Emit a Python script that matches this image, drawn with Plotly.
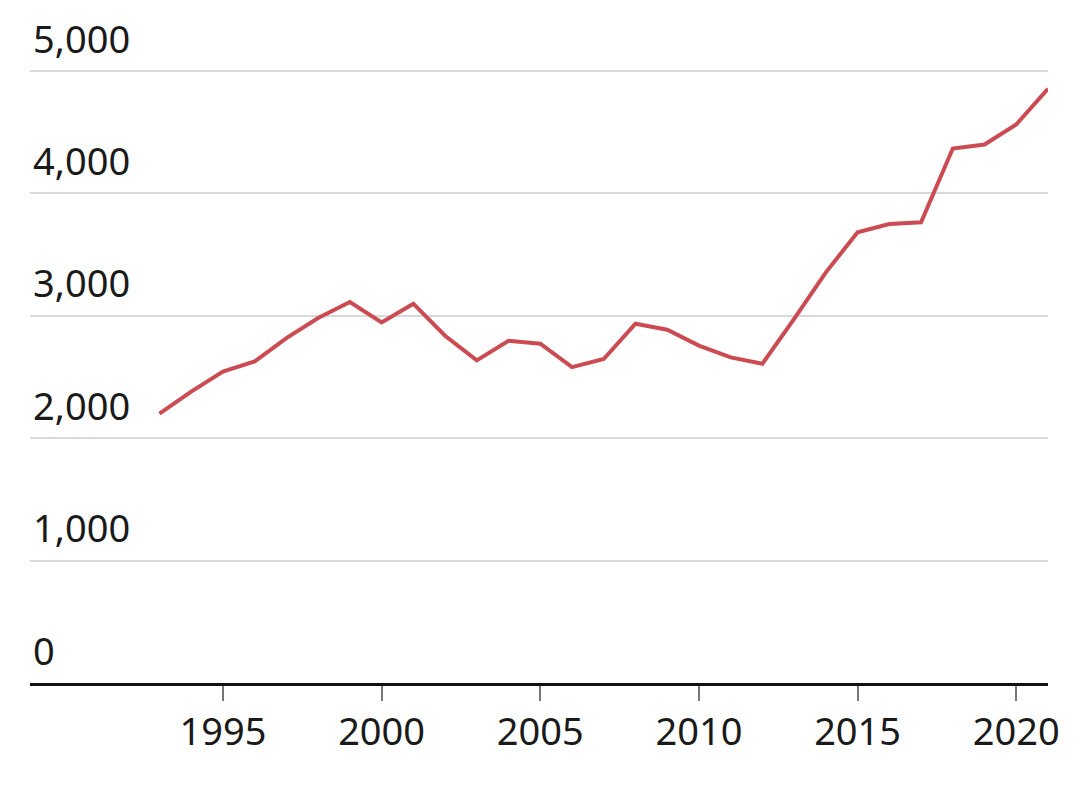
import plotly.graph_objects as go

years = list(range(1993, 2022))
values = [2200, 2380, 2545, 2627, 2818, 2982, 3113, 2946, 3099, 2837,
          2636, 2796, 2772, 2580, 2647, 2935, 2886, 2756, 2660, 2608,
          2974, 3355, 3682, 3750, 3764, 4366, 4399, 4563, 4855]

ytick_vals = [0, 1000, 2000, 3000, 4000, 5000]
ytick_text = ['0', '1,000', '2,000', '3,000', '4,000', '5,000']
xtick_vals = [1995, 2000, 2005, 2010, 2015, 2020]

fig = go.Figure()
fig.add_trace(go.Scatter(x=years, y=values, mode='lines',
                         line=dict(color='#cc4a51', width=4),
                         hoverinfo='x+y'))

# page body has an 8px margin, so the figure is a bit smaller than the window
fig.update_layout(
    width=1064, height=788,
    margin=dict(l=22, r=24, t=14, b=113),
    plot_bgcolor='white', paper_bgcolor='white',
    showlegend=False,
    font=dict(family='Noto Sans', size=38, color='#1a1a1a'),
)
fig.update_xaxes(
    range=[1988.92, 2021], tickvals=xtick_vals,
    showgrid=False, zeroline=False,
    showline=True, linecolor='#111111', linewidth=3,
    ticks='outside', ticklen=15, tickwidth=2, tickcolor='#777777',
    ticklabelstandoff=-2, automargin=False,
    tickfont=dict(color='#1a1a1a'),
)
fig.update_yaxes(
    range=[0, 5400], tickvals=ytick_vals, ticktext=ytick_text,
    showgrid=True, gridcolor='#d9d9d9', gridwidth=2,
    zeroline=False, showline=False, ticks='',
    ticklabelposition='inside top', ticklabelshift=-5,
    ticklabeloverflow='allow',
    automargin=False, tickfont=dict(color='#1a1a1a'),
)

fig.write_html("out.html")
